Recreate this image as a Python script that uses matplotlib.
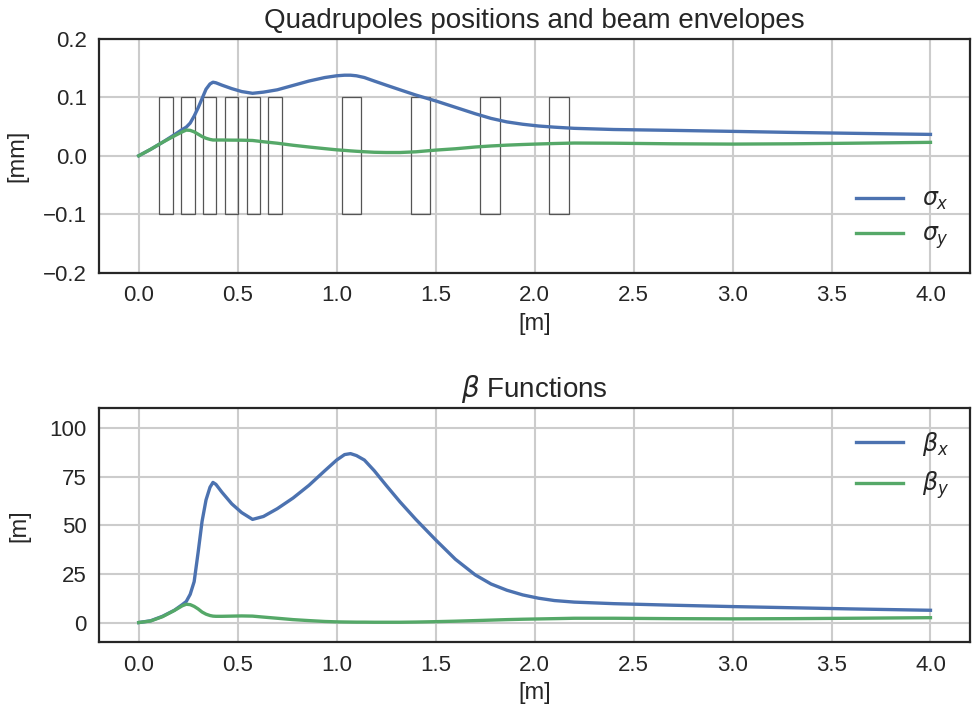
import matplotlib
matplotlib.use("Agg")
import matplotlib.pyplot as plt
from matplotlib.patches import Rectangle

plt.rcParams['font.family'] = ['Liberation Sans', 'DejaVu Sans']
plt.rcParams['axes.edgecolor'] = '#262626'
plt.rcParams['axes.linewidth'] = 1.6
plt.rcParams['text.color'] = '#262626'
plt.rcParams['axes.labelcolor'] = '#262626'
plt.rcParams['xtick.color'] = '#262626'
plt.rcParams['ytick.color'] = '#262626'

# longitudinal position along the line [m]
s = [0.0, 0.06, 0.12, 0.18, 0.22, 0.24, 0.26, 0.28, 0.30, 0.32,
     0.34, 0.36, 0.375, 0.39, 0.42, 0.47, 0.52, 0.575, 0.63, 0.70,
     0.78, 0.86, 0.94, 1.00, 1.04, 1.07, 1.10, 1.14, 1.19, 1.25,
     1.32, 1.40, 1.50, 1.60, 1.70, 1.78, 1.86, 1.94, 2.02, 2.10,
     2.20, 2.40, 2.70, 3.00, 3.30, 3.60, 4.00]

# beam envelopes [mm]
sigma_x = [0.0, 0.011, 0.023, 0.036, 0.045, 0.049, 0.056, 0.068, 0.082, 0.098,
           0.114, 0.123, 0.126, 0.125, 0.121, 0.115, 0.110, 0.107, 0.109, 0.113,
           0.1205, 0.128, 0.134, 0.137, 0.138, 0.138, 0.137, 0.134, 0.128, 0.121,
           0.113, 0.104, 0.094, 0.083, 0.072, 0.064, 0.058, 0.054, 0.051, 0.049,
           0.047, 0.045, 0.0435, 0.0418, 0.040, 0.0385, 0.0366]
sigma_y = [0.0, 0.011, 0.023, 0.034, 0.041, 0.044, 0.0435, 0.041, 0.037, 0.033,
           0.030, 0.028, 0.027, 0.027, 0.027, 0.0268, 0.0267, 0.0262, 0.024, 0.0215,
           0.018, 0.015, 0.0122, 0.0102, 0.0092, 0.0084, 0.0077, 0.0069, 0.006, 0.0056,
           0.0056, 0.0068, 0.0097, 0.012, 0.015, 0.0168, 0.0182, 0.0193, 0.0202, 0.021,
           0.0218, 0.0215, 0.0205, 0.020, 0.0205, 0.0215, 0.023]

# beta functions [m]
beta_x = [0.0, 0.9, 3.2, 6.3, 9.2, 10.8, 14.5, 21.0, 36.0, 52.0,
          63.0, 69.5, 72.0, 71.0, 67.0, 61.0, 56.5, 53.0, 54.5, 58.5,
          64.0, 70.5, 78.0, 83.5, 86.3, 86.8, 85.8, 83.5, 78.0, 70.5,
          62.0, 53.0, 42.5, 32.5, 24.5, 19.8, 16.6, 14.2, 12.5, 11.3,
          10.5, 9.7, 8.9, 8.2, 7.6, 7.0, 6.3]
beta_y = [0.0, 0.8, 3.0, 6.2, 8.6, 9.4, 9.2, 8.3, 7.0, 5.4,
          4.3, 3.6, 3.3, 3.2, 3.2, 3.3, 3.4, 3.3, 2.8, 2.2,
          1.5, 1.0, 0.55, 0.35, 0.28, 0.24, 0.2, 0.2, 0.15, 0.15,
          0.15, 0.25, 0.45, 0.7, 1.0, 1.25, 1.5, 1.7, 1.85, 2.0,
          2.2, 2.2, 2.0, 1.9, 2.0, 2.2, 2.5]

# quadrupole entrance positions and lengths [m]
quad_start = [0.104, 0.215, 0.325, 0.436, 0.545, 0.655, 1.025, 1.374, 1.723, 2.072]
quad_len = [0.067, 0.067, 0.067, 0.067, 0.067, 0.067, 0.1, 0.1, 0.1, 0.1]

blue = '#4C72B0'
green = '#55A868'

fig, (ax1, ax2) = plt.subplots(2, 1, figsize=(9.72, 7.17), dpi=100)
fig.subplots_adjust(left=0.102, right=0.998, top=0.9456, bottom=0.1046, hspace=0.582)

for ax in (ax1, ax2):
    ax.grid(True, color='#cccccc', linewidth=1.5)
    ax.set_axisbelow(True)
    ax.tick_params(length=0, labelsize=16, pad=9)
    ax.set_xlim(-0.2, 4.2)
    ax.set_xticks([0.0, 0.5, 1.0, 1.5, 2.0, 2.5, 3.0, 3.5, 4.0])
    ax.set_xlabel('[m]', fontsize=17, labelpad=5)

# top: quadrupoles and envelopes
for x0, L in zip(quad_start, quad_len):
    ax1.add_patch(Rectangle((x0, -0.1), L, 0.2, fill=False,
                            edgecolor='#555555', linewidth=0.9))
ax1.plot(s, sigma_x, color=blue, linewidth=2.4, label=r'$\sigma_x$')
ax1.plot(s, sigma_y, color=green, linewidth=2.4, label=r'$\sigma_y$')
ax1.set_ylim(-0.2, 0.2)
ax1.set_yticks([-0.2, -0.1, 0.0, 0.1, 0.2])
ax1.set_yticklabels(['\u22120.2', '\u22120.1', '0.0', '0.1', '0.2'])
ax1.set_ylabel('[mm]', fontsize=17, labelpad=10)
ax1.set_title('Quadrupoles positions and beam envelopes', fontsize=20, pad=8)
ax1.legend(loc='lower right', frameon=False, fontsize=17, handlelength=2.0)

# bottom: beta functions
ax2.plot(s, beta_x, color=blue, linewidth=2.4, label=r'$\beta_x$')
ax2.plot(s, beta_y, color=green, linewidth=2.4, label=r'$\beta_y$')
ax2.set_ylim(-10, 110)
ax2.set_yticks([0, 25, 50, 75, 100])
ax2.set_ylabel('[m]', fontsize=17, labelpad=14)
ax2.set_title(r'$\beta$ Functions', fontsize=20, pad=8)
ax2.legend(loc='upper right', frameon=False, fontsize=17, handlelength=2.0)

fig.savefig('out.png', dpi=100)
